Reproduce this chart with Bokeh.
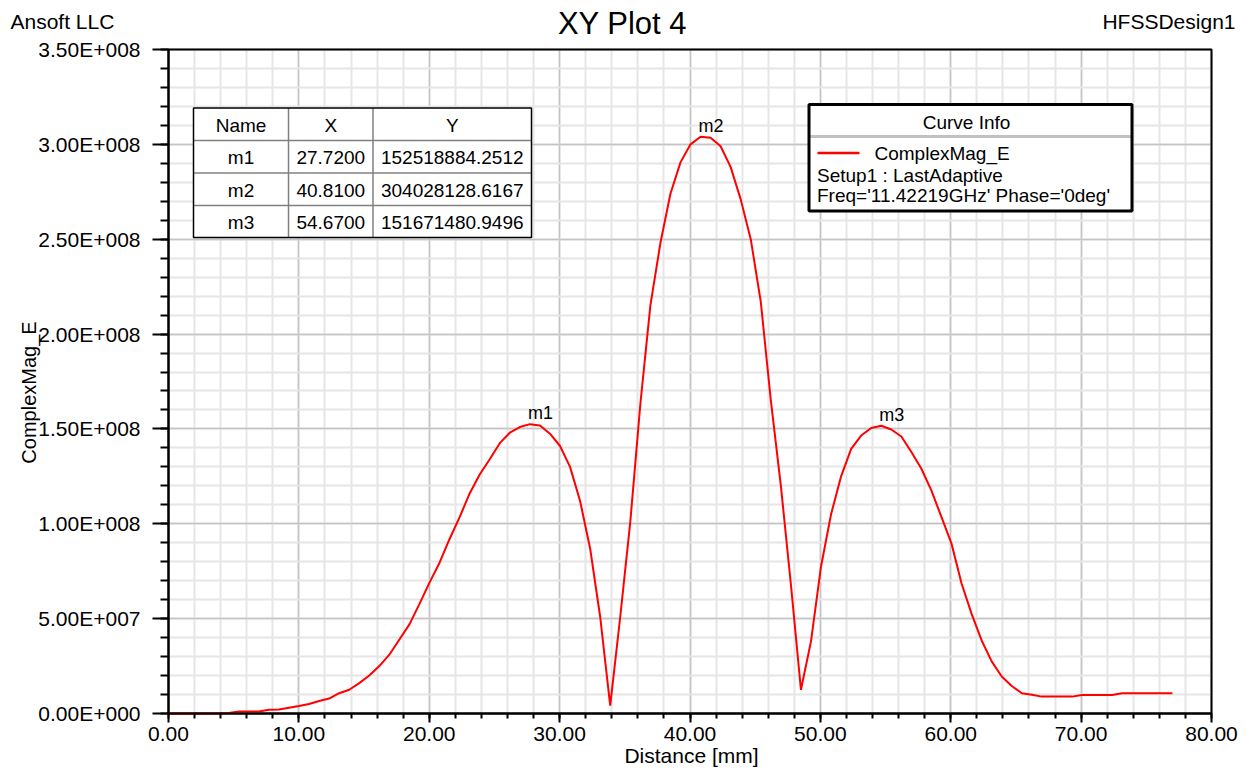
import math
from bokeh.plotting import figure
from bokeh.models import Range1d, FixedTicker, Label
from bokeh.core.properties import value
from bokeh.embed import file_html
from bokeh.resources import INLINE

# ---------------- data ----------------
distance_mm = [0.00, 0.77, 1.54, 2.31, 3.08, 3.85, 4.62, 5.39, 6.16, 6.93,
               7.70, 8.47, 9.24, 10.01, 10.78, 11.55, 12.32, 13.09, 13.86, 14.63,
               15.40, 16.17, 16.94, 17.71, 18.48, 19.25, 20.02, 20.79, 21.56, 22.33,
               23.10, 23.87, 24.64, 25.41, 26.18, 26.95, 27.72, 28.49, 29.26, 30.03,
               30.80, 31.57, 32.34, 33.11, 33.88, 34.65, 35.42, 36.19, 36.96, 37.73,
               38.50, 39.27, 40.04, 40.81, 41.58, 42.35, 43.12, 43.89, 44.66, 45.43,
               46.20, 46.97, 47.74, 48.51, 49.28, 50.05, 50.82, 51.59, 52.36, 53.13,
               53.90, 54.67, 55.44, 56.21, 56.98, 57.75, 58.52, 59.29, 60.06, 60.83,
               61.60, 62.37, 63.14, 63.91, 64.68, 65.45, 66.22, 66.99, 67.76, 68.53,
               69.30, 70.07, 70.84, 71.61, 72.38, 73.15, 73.92, 74.69, 75.46, 76.23,
               77.00]

complexmag_e = [0.0, 0.0, 0.0, 0.0, 0.0, 0.1e6, 0.3e6, 1.0e6, 1.0e6, 1.1e6,
                2.0e6, 2.1e6, 3.0e6, 3.9e6, 5.0e6, 6.6e6, 7.9e6, 10.7e6, 12.5e6, 16.0e6,
                20.0e6, 25.0e6, 31.0e6, 39.0e6, 47.0e6, 57.8e6, 69.0e6, 79.5e6, 92.0e6, 103.5e6,
                116.0e6, 126.0e6, 134.0e6, 142.5e6, 148.0e6, 151.0e6, 152518884.2512, 151.8e6, 147.5e6, 141.0e6,
                130.0e6, 112.0e6, 87.0e6, 51.0e6, 4.2e6, 51.0e6, 101.0e6, 163.0e6, 215.0e6, 248.0e6,
                274.0e6, 290.5e6, 300.0e6, 304028128.6167, 303.5e6, 299.0e6, 288.0e6, 271.0e6, 250.0e6, 217.0e6,
                165.0e6, 120.0e6, 68.0e6, 12.5e6, 38.0e6, 77.5e6, 105.0e6, 125.0e6, 139.5e6, 146.5e6,
                150.5e6, 151671480.9496, 149.7e6, 146.0e6, 137.8e6, 129.0e6, 117.5e6, 103.5e6, 89.5e6, 68.5e6,
                52.5e6, 38.5e6, 27.5e6, 19.5e6, 14.5e6, 10.7e6, 9.9e6, 8.9e6, 8.9e6, 8.9e6,
                8.9e6, 9.8e6, 9.8e6, 9.8e6, 9.8e6, 10.7e6, 10.7e6, 10.7e6, 10.7e6, 10.7e6,
                10.7e6]

marker_names = ["m1", "m2", "m3"]
marker_x = [27.72, 40.81, 54.67]
marker_y = [152518884.2512, 304028128.6167, 151671480.9496]
marker_x_text = ["27.7200", "40.8100", "54.6700"]
marker_y_text = ["152518884.2512", "304028128.6167", "151671480.9496"]

x_ticks = [0, 10, 20, 30, 40, 50, 60, 70, 80]
x_tick_labels = ["0.00", "10.00", "20.00", "30.00", "40.00", "50.00", "60.00", "70.00", "80.00"]
y_ticks = [0, 50000000, 100000000, 150000000, 200000000, 250000000, 300000000, 350000000]
y_tick_labels = ["0.00E+000", "5.00E+007", "1.00E+008", "1.50E+008", "2.00E+008",
                 "2.50E+008", "3.00E+008", "3.50E+008"]

title_text = "XY Plot 4"
company_text = "Ansoft LLC"
design_text = "HFSSDesign1"
x_label = "Distance [mm]"
y_label = "ComplexMag_E"
legend_title = "Curve Info"
legend_lines = ["ComplexMag_E", "Setup1 : LastAdaptive", "Freq='11.42219GHz' Phase='0deg'"]

# ---------------- layout ----------------
PW, PH = 1252, 773                     # canvas size
FL, FR, FT, FB = 168, 1211, 49, 713    # plot box in canvas pixels
XMAX, YMAX = 80.0, 3.5e8
FONT = "Liberation Sans"


def X(px):
    return (px - FL) / (FR - FL) * XMAX


def Y(py):
    return (FB - py) / (FB - FT) * YMAX


# the frame covers the whole canvas; axes are pinned at the plot box edges
p = figure(width=PW, height=PH, x_range=Range1d(X(0), X(PW)), y_range=Range1d(Y(PH), Y(0)),
           output_backend="svg", toolbar_location=None,
           min_border=0, min_border_left=0, min_border_right=0, min_border_top=0, min_border_bottom=0,
           background_fill_color="white", border_fill_color="white")
p.outline_line_color = None

xt = FixedTicker(ticks=x_ticks, minor_ticks=[2 * i for i in range(41)])
yt = FixedTicker(ticks=y_ticks, minor_ticks=[1e7 * i for i in range(36)])

# ---- grid ----
xg, yg = p.xgrid[0], p.ygrid[0]
if "cross_bounds" in xg.properties():
    xg.ticker = xt
    yg.ticker = yt
    xg.bounds = (0, XMAX)
    yg.bounds = (0, YMAX)
    xg.cross_bounds = (0, YMAX)
    yg.cross_bounds = (0, XMAX)
    for g in (xg, yg):
        g.grid_line_color = "#c4c4c4"
        g.grid_line_width = 1.5
        g.minor_grid_line_color = "#e6e6e6"
        g.minor_grid_line_width = 2
else:
    xg.visible = False
    yg.visible = False
    mx = [v for v in xt.minor_ticks if v not in x_ticks]
    my = [v for v in yt.minor_ticks if v not in y_ticks]
    p.segment(x0=mx, x1=mx, y0=[0] * len(mx), y1=[YMAX] * len(mx), line_color="#e6e6e6", line_width=2)
    p.segment(x0=[0] * len(my), x1=[XMAX] * len(my), y0=my, y1=my, line_color="#e6e6e6", line_width=2)
    p.segment(x0=x_ticks, x1=x_ticks, y0=[0] * len(x_ticks), y1=[YMAX] * len(x_ticks),
              line_color="#c4c4c4", line_width=1.5)
    p.segment(x0=[0] * len(y_ticks), x1=[XMAX] * len(y_ticks), y0=y_ticks, y1=y_ticks,
              line_color="#c4c4c4", line_width=1.5)

# ---- plot box outline ----
p.quad(left=[0], right=[XMAX], bottom=[0], top=[YMAX], fill_color=None,
       line_color="black", line_width=2)

# ---- axes ----
p.xaxis.ticker = xt
p.yaxis.ticker = yt
p.xaxis.fixed_location = 0
p.yaxis.fixed_location = 0
p.xaxis.bounds = (0, XMAX)
p.yaxis.bounds = (0, YMAX)
p.xaxis.major_label_overrides = dict(zip(x_ticks, x_tick_labels))
p.yaxis.major_label_overrides = dict(zip(y_ticks, y_tick_labels))

for ax in (p.xaxis, p.yaxis):
    ax.axis_line_color = "black"
    ax.axis_line_width = 2
    ax.major_tick_line_color = "black"
    ax.major_tick_line_width = 2
    ax.minor_tick_line_color = "black"
    ax.minor_tick_line_width = 2
    ax.major_tick_in = 0
    ax.minor_tick_in = 0
    ax.major_label_text_font = FONT
    ax.major_label_text_font_size = "21px"
    ax.major_label_text_color = "black"

p.yaxis.major_tick_out = 16
p.yaxis.minor_tick_out = 8
p.yaxis.major_label_standoff = 12
p.xaxis.major_tick_out = 9
p.xaxis.minor_tick_out = 5
p.xaxis.major_label_standoff = 4

# ---- curve ----
p.line(distance_mm, complexmag_e, line_color="#ff0000", line_width=2)

# ---- marker labels (drawn just above each marker point) ----
for name, mx_, my_ in zip(marker_names, marker_x, marker_y):
    p.add_layout(Label(x=mx_, y=my_, text=name, text_font=FONT, text_font_size="18px",
                       text_align="left", text_baseline="bottom", x_offset=-2, y_offset=1,
                       text_color="black"))

# ---------------- marker table ----------------
tl, tr, tt, tb = 193, 531, 107.5, 237
cols = [193, 288, 372.5, 531]
rows = [107.5, 140, 172.5, 205, 237]
p.quad(left=[X(tl)], right=[X(tr)], top=[Y(tt)], bottom=[Y(tb)],
       fill_color="white", line_color=None)
p.segment(x0=[X(c) for c in cols[1:3]], x1=[X(c) for c in cols[1:3]],
          y0=[Y(tt)] * 2, y1=[Y(tb)] * 2, line_color="#808080", line_width=1.5)
p.segment(x0=[X(tl)] * 3, x1=[X(tr)] * 3, y0=[Y(r) for r in rows[1:4]],
          y1=[Y(r) for r in rows[1:4]], line_color="#808080", line_width=1.5)
p.quad(left=[X(tl)], right=[X(tr)], top=[Y(tt)], bottom=[Y(tb)],
       fill_color=None, line_color="black", line_width=1.5)

col_centers = [(cols[i] + cols[i + 1]) / 2 for i in range(3)]
row_centers = [(rows[i] + rows[i + 1]) / 2 for i in range(4)]
cell_x, cell_y, cell_t = [], [], []
header = ["Name", "X", "Y"]
for j in range(3):
    cell_x.append(X(col_centers[j])); cell_y.append(Y(row_centers[0])); cell_t.append(header[j])
for i in range(3):
    vals = [marker_names[i], marker_x_text[i], marker_y_text[i]]
    for j in range(3):
        cell_x.append(X(col_centers[j])); cell_y.append(Y(row_centers[i + 1])); cell_t.append(vals[j])
p.text(x=cell_x, y=cell_y, text=cell_t, text_font=value(FONT), text_font_size="19px",
       text_align="center", text_baseline="middle", text_color="black", y_offset=1)

# ---------------- curve info legend ----------------
ll, lr, lt, lb = 808.5, 1131.5, 104, 210.5
p.quad(left=[X(ll)], right=[X(lr)], top=[Y(lt)], bottom=[Y(lb)],
       fill_color="white", line_color=None)
p.segment(x0=[X(ll)], x1=[X(lr)], y0=[Y(136)], y1=[Y(136)], line_color="#c0c0c0", line_width=3)
p.quad(left=[X(ll)], right=[X(lr)], top=[Y(lt)], bottom=[Y(lb)],
       fill_color=None, line_color="black", line_width=3)
p.segment(x0=[X(817)], x1=[X(859)], y0=[Y(152.5)], y1=[Y(152.5)], line_color="#ff0000", line_width=2.5)
p.text(x=[X(966)], y=[Y(121.5)], text=[legend_title], text_font=value(FONT), text_font_size="19px",
       text_align="center", text_baseline="middle", text_color="black")
p.text(x=[X(874), X(816.5), X(816.5)], y=[Y(152.5), Y(174.5), Y(195)], text=legend_lines,
       text_font=value(FONT), text_font_size="19px", text_align="left", text_baseline="middle",
       text_color="black")

# ---------------- outer texts ----------------
p.add_layout(Label(x=X(10), y=Y(21), text=company_text, text_font=FONT, text_font_size="21px",
                   text_align="left", text_baseline="middle", text_color="black"))
p.add_layout(Label(x=X(622), y=Y(23), text=title_text, text_font=FONT, text_font_size="31px",
                   text_align="center", text_baseline="middle", text_color="black"))
p.add_layout(Label(x=X(1235), y=Y(21), text=design_text, text_font=FONT, text_font_size="21px",
                   text_align="right", text_baseline="middle", text_color="black"))
p.add_layout(Label(x=X(28), y=Y(392), text=y_label, text_font=FONT, text_font_size="20px",
                   angle=math.pi / 2, text_align="center", text_baseline="middle", text_color="black"))
p.add_layout(Label(x=X(691), y=Y(755), text=x_label, text_font=FONT, text_font_size="21px",
                   text_align="center", text_baseline="middle", text_color="black"))

open("out.html", "w").write(file_html(p, INLINE))
